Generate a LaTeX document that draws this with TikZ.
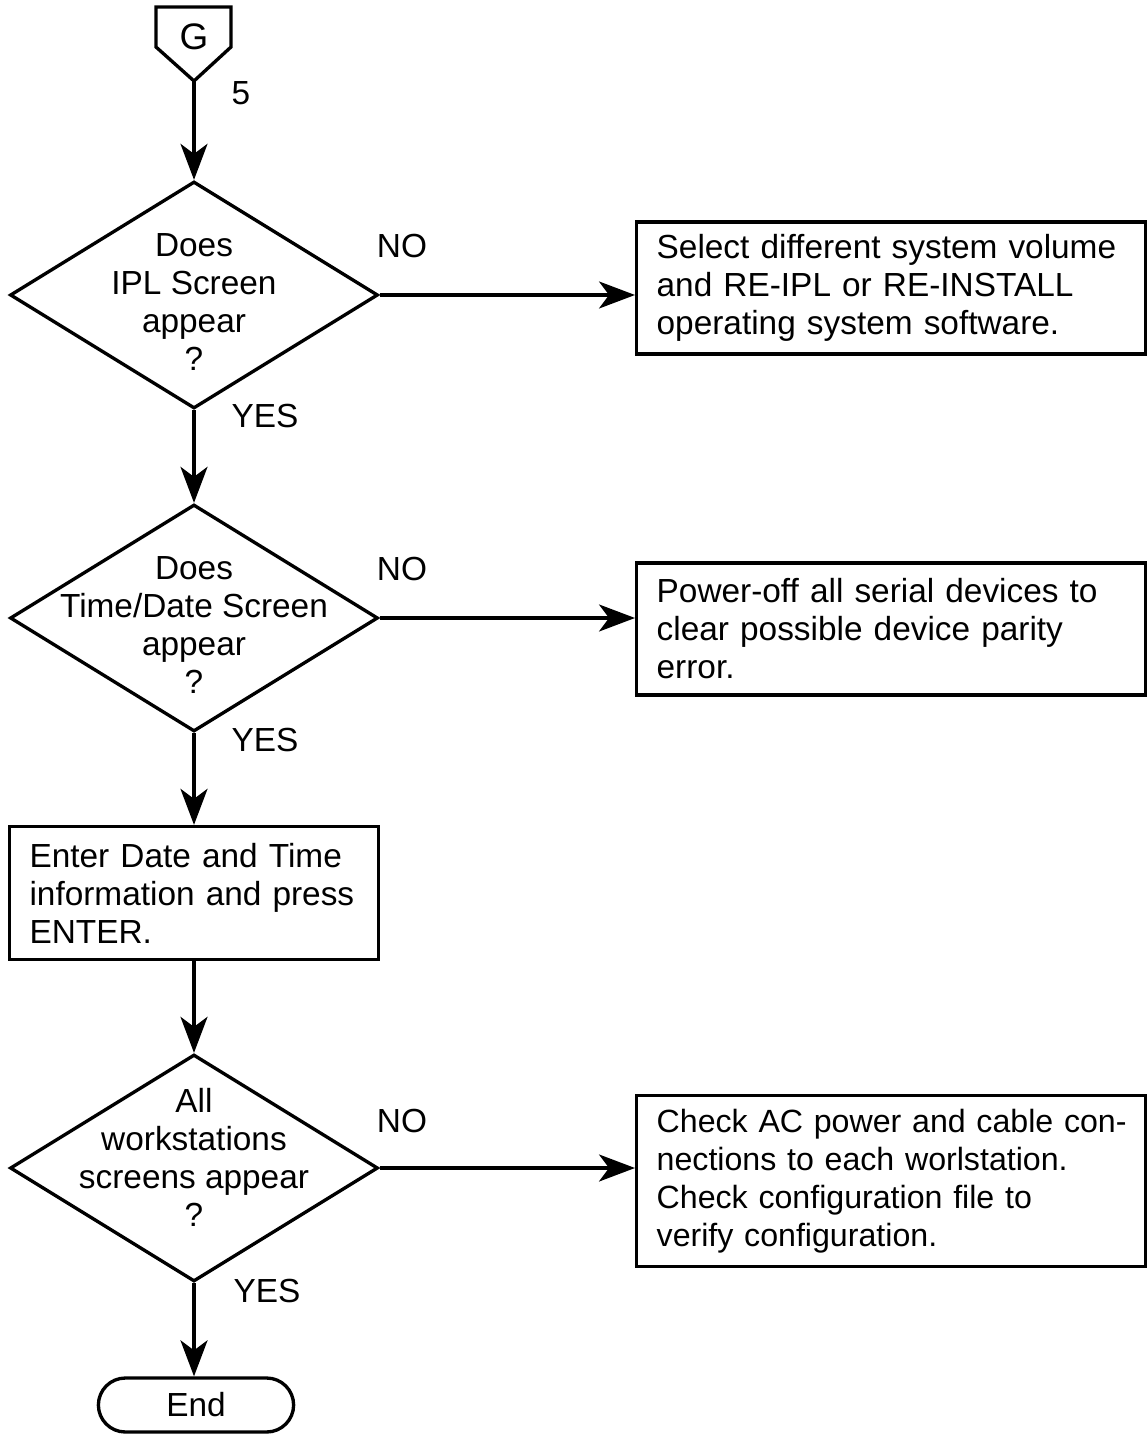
\documentclass[tikz,border=0pt]{standalone}
\usepackage{fontspec}
\setmainfont{Liberation Sans}
\usetikzlibrary{shapes.geometric,shapes.misc,arrows.meta}

\tikzset{
  txt/.style={font=\fontsize{19}{21.6}\selectfont},
  decision/.style={draw, diamond, minimum width=7.36cm, minimum height=4.54cm, inner sep=0pt},
  dtext/.style={txt, align=center, inner sep=0pt},
  action/.style={draw, rectangle, txt, align=left, inner xsep=0.4cm, text width=9.38cm, minimum height=2.64cm, anchor=west},
  terminal/.style={draw, rounded rectangle, txt, minimum width=4.14cm, minimum height=1.08cm},
  flow/.style={-{Stealth[length=0.72cm,width=0.54cm,inset=0.2cm]}},
}

\begin{document}
\begin{tikzpicture}[x=0.02cm, y=-0.02cm, line width=1.9pt]
  \useasboundingbox (0,0) rectangle (1147,1435);
  % Off-page connector
  \node[txt, font=\fontsize{21}{24}\selectfont] (g) at (194,37) {G};
  \coordinate (gtip) at (194,81);
  \draw (156,7) -- (231,7) -- (231,47) -- (gtip) -- (156,47) -- cycle;
  \node[txt] (gnum) at (241,93) {5};
  % Decisions
  \node[decision] (d1) at (194,295) {};
  \node[dtext] (d1t) at (194,302) {Does\\IPL Screen\\appear\\?};
  \node[decision] (d2) at (194,618) {};
  \node[dtext] (d2t) at (194,625) {Does\\Time/Date Screen\\appear\\?};
  \node[decision] (d3) at (194,1168) {};
  \node[dtext] (d3t) at (194,1157) {All\\workstations\\screens appear\\?};
  % Boxes
  \node[action] (b1) at (635,288) {Select different system volume\\and RE-IPL or RE-INSTALL\\operating system software.};
  \node[action] (b2) at (635,629) {Power-off all serial devices to\\clear possible device parity\\error.};
  \node[draw, rectangle, txt, align=left, inner xsep=0.4cm, text width=6.58cm, minimum height=2.66cm] (b3) at (194,893) {Enter Date and Time\\information and press\\ENTER.};
  \node[action, minimum height=3.42cm, font=\fontsize{18.3}{21.6}\selectfont] (b4) at (635,1181) {\mbox{Check AC power and cable con-}\\nections to each worlstation.\\Check configuration file to\\verify configuration.};
  \node[terminal] (end) at (196,1405) {End};
  % Labels
  \node[txt] (no1) at (402,246) {NO};
  \node[txt] (no2) at (402,569) {NO};
  \node[txt] (no3) at (402,1121) {NO};
  \node[txt] (yes1) at (265,416) {YES};
  \node[txt] (yes2) at (265,740) {YES};
  \node[txt] (yes3) at (267,1291) {YES};
  % Connectors
  \draw[flow] (gtip) -- (d1.north);
  \draw[flow] (d1.south) -- (d2.north);
  \draw[flow] (d2.south) -- (b3.north);
  \draw[flow] (b3.south) -- (d3.north);
  \draw[flow] (d3.south) -- (d3.south |- end.north);
  \draw[flow] (d1.east) -- (d1.east -| b1.west);
  \draw[flow] (d2.east) -- (d2.east -| b2.west);
  \draw[flow] (d3.east) -- (d3.east -| b4.west);
\end{tikzpicture}
\end{document}
